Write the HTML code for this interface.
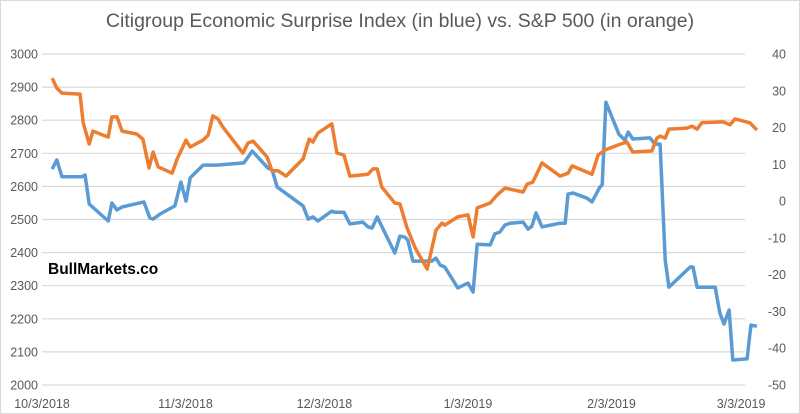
<!DOCTYPE html>
<html><head><meta charset="utf-8"><style>
body{margin:0;background:#fff;}
svg{display:block;font-family:"Liberation Sans",sans-serif;}
</style></head><body>
<svg id="chart" width="800" height="414">
<rect x="0.5" y="0.5" width="799" height="413" fill="#fff" stroke="#d9d9d9"/>
<text x="400" y="27" text-anchor="middle" font-size="19.5" fill="#595959">Citigroup Economic Surprise Index (in blue) vs. S&amp;P 500 (in orange)</text>
<g id="grid"></g><g id="lt"></g><g id="rt"></g><g id="xt"></g><g id="series"></g>
<text x="48" y="274" font-size="15.5" font-weight="bold" fill="#000">BullMarkets.co</text>
</svg>
<script>
const xTickLabels=["10/3/2018","11/3/2018","12/3/2018","1/3/2019","2/3/2019","3/3/2019"];
const xTickDays=[0,31,61,92,123,151];
const leftTicks=[2000,2100,2200,2300,2400,2500,2600,2700,2800,2900,3000];
const rightTicks=[-50,-40,-30,-20,-10,0,10,20,30,40];
const spxDays=[2.2,3.2,4.3,8.2,8.9,10.2,11.0,14.3,15.1,16.2,17.3,20.5,21.8,23.1,24.0,25.1,28.1,29.2,31.1,32.0,34.8,35.9,36.9,38.0,39.1,43.4,44.5,45.6,48.6,49.7,51.0,52.7,56.4,57.7,58.5,59.6,62.6,63.7,65.2,66.5,70.4,71.5,72.4,73.4,76.2,77.3,78.8,80.6,83.2,85.1,86.4,87.0,89.8,92.0,93.1,94.0,96.8,98.3,100.0,103.9,104.8,106.0,108.0,111.9,113.6,114.5,118.8,120.1,121.6,124.4,126.3,127.6,131.7,132.8,133.5,134.6,135.4,139.3,140.4,141.5,142.5,147.1,148.6,149.7,152.9,154.4];
const spxValues=[2927,2897,2882,2879,2792,2728,2767,2749,2810,2810,2767,2758,2743,2656,2704,2659,2640,2683,2740,2719,2740,2755,2813,2804,2779,2701,2731,2737,2689,2647,2647,2631,2683,2743,2734,2761,2789,2701,2695,2631,2637,2653,2653,2598,2550,2547,2477,2414,2350,2468,2489,2483,2508,2514,2447,2535,2550,2574,2595,2583,2607,2613,2671,2631,2640,2662,2637,2695,2710,2725,2734,2704,2707,2746,2752,2746,2773,2776,2782,2773,2792,2795,2786,2804,2792,2770];
const cesiDays=[2.2,3.2,4.3,8.6,9.3,10.2,14.3,15.1,16.2,17.3,22.0,23.3,24.0,25.5,28.7,30.0,31.1,32.0,34.8,37.8,43.6,45.4,48.8,49.7,50.8,56.4,57.5,58.5,59.6,62.6,63.3,65.2,66.5,69.3,70.4,71.3,72.4,76.2,77.3,78.4,79.0,80.1,84.2,85.1,86.0,87.0,89.8,92.0,93.1,94.0,96.8,97.8,98.9,100.0,101.1,103.9,105.0,105.8,106.7,108.0,111.9,113.0,113.6,114.7,117.7,118.8,120.5,121.0,121.8,124.6,125.9,126.6,127.6,131.3,132.4,133.5,134.6,135.4,140.0,140.6,141.5,145.4,146.4,147.3,148.4,149.2,152.3,153.1,154.4];
const cesiValues=[8.7,11.2,6.6,6.6,7.1,-0.8,-5.4,-0.5,-2.4,-1.6,-0.2,-4.6,-4.9,-3.5,-1.3,5.2,0.0,6.3,9.8,9.8,10.4,13.6,9.0,8.5,3.8,-1.3,-4.9,-4.3,-5.4,-2.7,-3.0,-3.0,-6.2,-5.7,-7.0,-7.3,-4.3,-14.1,-9.5,-9.8,-10.6,-16.3,-16.3,-15.5,-17.4,-17.9,-23.6,-22.3,-24.7,-11.7,-11.9,-8.9,-8.4,-6.5,-6.0,-5.7,-7.6,-6.8,-3.2,-7.0,-6.0,-6.0,1.9,2.2,0.8,-0.2,3.8,4.4,26.9,18.2,16.6,18.8,16.9,17.2,15.5,15.5,-16.0,-23.4,-17.9,-17.9,-23.4,-23.4,-30.4,-33.4,-29.6,-43.2,-42.9,-33.7,-34.0];

const NS="http://www.w3.org/2000/svg";
const xS=d=>42+d*4.63;
const yL=v=>54+(3000-v)*0.331;
const yR=v=>54+(40-v)*3.678;
function mk(tag,attrs,parent,txt){const e=document.createElementNS(NS,tag);for(const k in attrs)e.setAttribute(k,attrs[k]);if(txt!==undefined)e.textContent=txt;document.getElementById(parent).appendChild(e);return e;}
leftTicks.forEach(v=>{
  const g=mk("line",{x1:42,x2:745,y1:yL(v),y2:yL(v),stroke:"#d9d9d9","stroke-width":1.2},"grid");
  
  
  const t=mk("text",{x:38,y:yL(v)+4.5,"text-anchor":"end","font-size":12.5,fill:"#595959"},"lt",v);
  
  
});
rightTicks.forEach(v=>{
  const t=mk("text",{x:786,y:yR(v)+4.5,"text-anchor":"end","font-size":12.5,fill:"#595959"},"rt",v);
  
  
});
xTickLabels.forEach((l,i)=>{
  const t=mk("text",{x:xS(xTickDays[i]),y:408,"text-anchor":"middle","font-size":12.5,fill:"#595959"},"xt",l);
  
  
});
const cp=cesiDays.map((d,i)=>xS(d).toFixed(1)+","+yR(cesiValues[i]).toFixed(1)).join(" ");
const b=mk("polyline",{points:cp,fill:"none",stroke:"#5B9BD5","stroke-width":3.5,"stroke-linejoin":"round"},"series");


const sp=spxDays.map((d,i)=>xS(d).toFixed(1)+","+yL(spxValues[i]).toFixed(1)).join(" ");
const o=mk("polyline",{points:sp,fill:"none",stroke:"#ED7D31","stroke-width":3.5,"stroke-linejoin":"round"},"series");


</script>
</body></html>
